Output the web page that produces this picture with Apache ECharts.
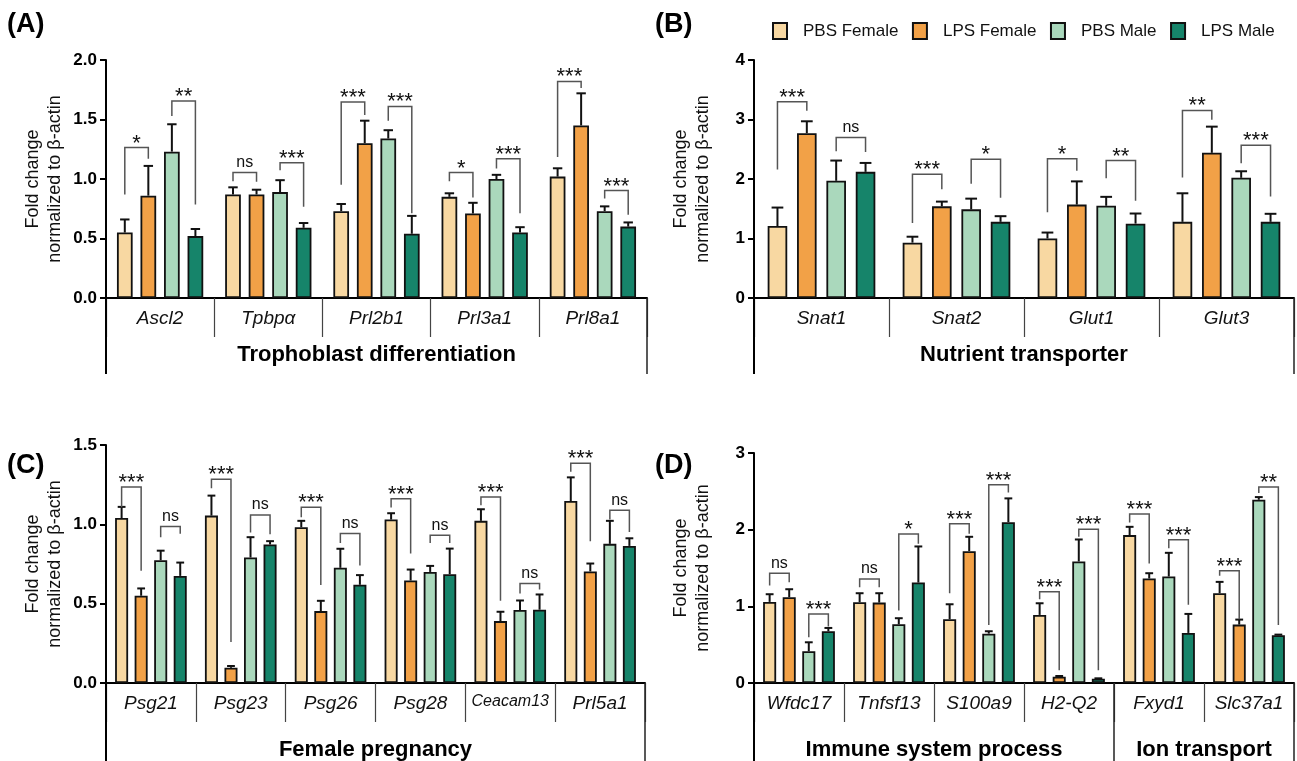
<!DOCTYPE html>
<html><head><meta charset="utf-8">
<script src="https://cdn.jsdelivr.net/npm/echarts@6/dist/echarts.min.js"></script>
<style>html,body{margin:0;padding:0;background:#fff}#c{width:1297px;height:761px}</style>
</head><body><div id="c"></div>
<script>
const seriesNames = ['PBS Female','LPS Female','PBS Male','LPS Male'];
const colors = ['#F8D8A2','#F2A147','#AAD8BC','#16846A'];
const yTitle = 'Fold change\nnormalized to β-actin';

// ---------- Panel A ----------
const catsA = ['Ascl2','Tpbpα','Prl2b1','Prl3a1','Prl8a1'];
const A_pbsF = [0.55,0.87,0.73,0.85,1.02];
const A_lpsF = [0.86,0.87,1.30,0.71,1.45];
const A_pbsM = [1.23,0.89,1.34,1.00,0.73];
const A_lpsM = [0.52,0.59,0.54,0.55,0.60];
const A_pbsF_sem = [0.11,0.06,0.06,0.03,0.07];
const A_lpsF_sem = [0.25,0.04,0.19,0.09,0.27];
const A_pbsM_sem = [0.23,0.10,0.07,0.035,0.04];
const A_lpsM_sem = [0.06,0.04,0.15,0.045,0.035];
const A_ticks = ['0.0','0.5','1.0','1.5','2.0'];
const A_groups = [['Trophoblast differentiation',0,4]];
// [category, series left, series right, bracket top, left leg end, right leg end, label]
const A_sig = [
  [0,0,1,1.265,0.87,1.17,'*'],[0,2,3,1.655,1.53,0.785,'**'],
  [1,0,1,1.055,0.982,0.976,'ns'],[1,2,3,1.136,1.074,0.766,'***'],
  [2,0,1,1.647,0.951,1.537,'***'],[2,2,3,1.61,1.49,0.712,'***'],
  [3,0,1,1.055,0.982,0.844,'*'],[3,2,3,1.17,1.088,0.712,'***'],
  [4,0,1,1.82,1.184,1.764,'***'],[4,2,3,0.903,0.836,0.70,'***']
];

// ---------- Panel B ----------
const catsB = ['Snat1','Snat2','Glut1','Glut3'];
const B_pbsF = [1.21,0.93,1.00,1.28];
const B_lpsF = [2.77,1.54,1.57,2.44];
const B_pbsM = [1.97,1.49,1.55,2.02];
const B_lpsM = [2.12,1.28,1.25,1.28];
const B_pbsF_sem = [0.31,0.10,0.10,0.48];
const B_lpsF_sem = [0.20,0.08,0.39,0.44];
const B_pbsM_sem = [0.34,0.18,0.15,0.11];
const B_lpsM_sem = [0.15,0.095,0.17,0.135];
const B_ticks = ['0','1','2','3','4'];
const B_groups = [['Nutrient transporter',0,3]];
const B_sig = [
  [0,0,1,3.30,2.16,3.147,'***'],[0,2,3,2.698,2.468,2.452,'ns'],
  [1,0,1,2.081,1.262,1.829,'***'],[1,2,3,2.334,1.919,1.683,'*'],
  [2,0,1,2.34,1.442,2.137,'*'],[2,2,3,2.311,2.014,1.633,'**'],
  [3,0,1,3.153,2.025,2.996,'**'],[3,2,3,2.569,2.266,1.706,'***']
];

// ---------- Panel C ----------
const catsC = ['Psg21','Psg23','Psg26','Psg28','Ceacam13','Prl5a1'];
const C_pbsF = [1.04,1.055,0.982,1.03,1.022,1.147];
const C_lpsF = [0.55,0.096,0.453,0.646,0.39,0.703];
const C_pbsM = [0.774,0.791,0.726,0.70,0.46,0.877];
const C_lpsM = [0.675,0.873,0.619,0.686,0.462,0.864];
const C_pbsF_sem = [0.07,0.126,0.04,0.04,0.073,0.149];
const C_lpsF_sem = [0.046,0.011,0.065,0.069,0.059,0.05];
const C_pbsM_sem = [0.06,0.128,0.12,0.038,0.06,0.145];
const C_lpsM_sem = [0.084,0.021,0.061,0.161,0.096,0.048];
const C_ticks = ['0.0','0.5','1.0','1.5'];
const C_groups = [['Female pregnancy',0,5]];
const C_sig = [
  [0,0,1,1.236,1.108,0.707,'***'],[0,2,3,0.986,0.919,0.94,'ns'],
  [1,0,1,1.284,1.227,0.258,'***'],[1,2,3,1.059,0.948,0.938,'ns'],
  [2,0,1,1.108,1.045,0.617,'***'],[2,2,3,0.942,0.883,0.74,'ns'],
  [3,0,1,1.162,1.106,0.816,'***'],[3,2,3,0.931,0.883,0.883,'ns'],
  [4,0,1,1.173,1.12,0.518,'***'],[4,2,3,0.627,0.564,0.589,'ns'],
  [5,0,1,1.385,1.332,0.894,'***'],[5,2,3,1.089,1.03,0.952,'ns']
];

// ---------- Panel D ----------
const catsD = ['Wfdc17','Tnfsf13','S100a9','H2-Q2','Fxyd1','Slc37a1'];
const D_pbsF = [1.058,1.054,0.832,0.888,1.929,1.171];
const D_lpsF = [1.119,1.049,1.72,0.083,1.363,0.762];
const D_pbsM = [0.414,0.766,0.644,1.585,1.389,2.39];
const D_lpsM = [0.675,1.31,2.098,0.057,0.653,0.623];
const D_pbsF_sem = [0.10,0.117,0.195,0.152,0.108,0.148];
const D_lpsF_sem = [0.104,0.122,0.187,0.008,0.069,0.065];
const D_pbsM_sem = [0.117,0.079,0.031,0.287,0.309,0.035];
const D_lpsM_sem = [0.043,0.471,0.31,0.004,0.248,0.008];
const D_ticks = ['0','1','2','3'];
const D_groups = [['Immune system process',0,3],['Ion transport',4,5]];
const D_sig = [
  [0,0,1,1.432,1.271,1.315,'ns'],[0,2,3,0.901,0.596,0.736,'***'],
  [1,0,1,1.358,1.249,1.249,'ns'],[1,2,3,1.942,0.945,1.815,'*'],
  [2,0,1,2.077,1.171,1.946,'***'],[2,2,3,2.586,0.757,2.486,'***'],
  [3,0,1,1.189,1.093,0.165,'***'],[3,2,3,2.007,1.907,0.165,'***'],
  [4,0,1,2.203,2.094,1.559,'***'],[4,2,3,1.868,1.759,1.02,'***'],
  [5,0,1,1.463,1.398,0.833,'***'],[5,2,3,2.555,2.477,0.757,'**']
];

// ---------- layout / style config ----------
const FONT = 'Liberation Sans, Arial, sans-serif';
const BW = 0.145, GAP = 0.5;
const panels = [
  {label:'(A)', lx:7, ly:11, cats:catsA, vals:[A_pbsF,A_lpsF,A_pbsM,A_lpsM], sems:[A_pbsF_sem,A_lpsF_sem,A_pbsM_sem,A_lpsM_sem],
   ticks:A_ticks, max:2, interval:0.5, groups:A_groups, sig:A_sig, grid:{left:106, top:60, width:541, height:238}, ext:76, gy:57},
  {label:'(B)', lx:655, ly:11, cats:catsB, vals:[B_pbsF,B_lpsF,B_pbsM,B_lpsM], sems:[B_pbsF_sem,B_lpsF_sem,B_pbsM_sem,B_lpsM_sem],
   ticks:B_ticks, max:4, interval:1, groups:B_groups, sig:B_sig, grid:{left:754, top:60, width:540, height:238}, ext:76, gy:57},
  {label:'(C)', lx:7, ly:452, cats:catsC, vals:[C_pbsF,C_lpsF,C_pbsM,C_lpsM], sems:[C_pbsF_sem,C_lpsF_sem,C_pbsM_sem,C_lpsM_sem],
   ticks:C_ticks, max:1.5, interval:0.5, groups:C_groups, sig:C_sig, grid:{left:106, top:445, width:539, height:238}, ext:80, gy:67},
  {label:'(D)', lx:655, ly:452, cats:catsD, vals:[D_pbsF,D_lpsF,D_pbsM,D_lpsM], sems:[D_pbsF_sem,D_lpsF_sem,D_pbsM_sem,D_lpsM_sem],
   ticks:D_ticks, max:3, interval:1, groups:D_groups, sig:D_sig, grid:{left:754, top:453, width:540, height:230}, ext:80, gy:67}
];

function barX(api, c, s) {
  const band = api.size([1, 0])[0];
  const bw = band * BW;
  return api.coord([c, 0])[0] + (s - 1.5) * bw * (1 + GAP);
}

const option = {
  animation: false,
  backgroundColor: '#fff',
  textStyle: {fontFamily: FONT},
  title: panels.map(p => ({text: p.label, left: p.lx, top: p.ly, padding: 0,
    textStyle: {fontSize: 27, fontWeight: 'bold', color: '#000', fontFamily: FONT}})),
  legend: {
    data: seriesNames, left: 772, top: 22, padding: 0, icon: 'rect', itemWidth: 14, itemHeight: 16, itemGap: 13.5,
    textStyle: {fontSize: 17, color: '#111', fontFamily: FONT, padding: [0, 0, 0, 11]},
    selectedMode: false
  },
  grid: panels.map(p => Object.assign({outerBoundsMode: 'none'}, p.grid)),
  xAxis: panels.map((p, i) => ({
    type: 'category', gridIndex: i, boundaryGap: true,
    data: p.cats.map(c => c === 'Ceacam13' ? {value: c, textStyle: {fontSize: 16}} : c),
    axisLine: {lineStyle: {color: '#000', width: 2}},
    axisTick: {show: true, interval: 0, length: 39, lineStyle: {color: '#444', width: 1.2}},
    axisLabel: {interval: 0, margin: 11, fontSize: 19, fontStyle: 'italic', color: '#111', fontFamily: FONT}
  })),
  yAxis: panels.map((p, i) => ({
    type: 'value', gridIndex: i, min: 0, max: p.max, interval: p.interval,
    axisLine: {show: true, lineStyle: {color: '#000', width: 2}},
    axisTick: {show: true, length: 6, lineStyle: {color: '#000', width: 2}},
    splitLine: {show: false},
    axisLabel: {margin: 9, fontSize: 17, fontWeight: 'bold', color: '#000', fontFamily: FONT,
      formatter: (v) => p.ticks[Math.round(v / p.interval)]},
    name: yTitle, nameLocation: 'middle', nameGap: 40, nameRotate: 90, nameMoveOverlap: false,
    nameTextStyle: {fontSize: 18, lineHeight: 22, color: '#111', fontFamily: FONT}
  })),
  series: []
};

panels.forEach((p, i) => {
  // bars
  p.vals.forEach((vals, s) => {
    option.series.push({
      type: 'bar', name: seriesNames[s], xAxisIndex: i, yAxisIndex: i,
      data: vals, barWidth: (BW * 100) + '%', barGap: (GAP * 100) + '%',
      itemStyle: {color: colors[s], borderColor: '#111', borderWidth: 1.8}, z: 2
    });
  });
  // error bars (mean + SEM)
  const errData = [];
  p.vals.forEach((vals, s) => vals.forEach((v, c) => errData.push([c, v, p.sems[s][c], s])));
  option.series.push({
    type: 'custom', xAxisIndex: i, yAxisIndex: i, clip: false, z: 4, silent: true,
    encode: {x: 0, y: 1}, data: errData,
    renderItem: (params, api) => {
      const c = api.value(0), m = api.value(1), e = api.value(2), s = api.value(3);
      const x = barX(api, c, s);
      const y0 = api.coord([c, m])[1], y1 = api.coord([c, m + e])[1];
      const cap = api.size([1, 0])[0] * BW * 0.3;
      return {type: 'group', children: [
        {type: 'line', shape: {x1: x, y1: y0, x2: x, y2: y1}, style: {stroke: '#111', lineWidth: 2}},
        {type: 'line', shape: {x1: x - cap, y1: y1, x2: x + cap, y2: y1}, style: {stroke: '#111', lineWidth: 2}}
      ]};
    }
  });
  // significance brackets
  option.series.push({
    type: 'custom', xAxisIndex: i, yAxisIndex: i, clip: false, z: 4, silent: true,
    encode: {x: 0, y: 3}, data: p.sig.map((r, k) => [r[0], r[1], r[2], r[3], r[4], r[5], k]),
    renderItem: (params, api) => {
      const c = api.value(0), sl = api.value(1), sr = api.value(2);
      const xl = barX(api, c, sl), xr = barX(api, c, sr);
      const yt = api.coord([c, api.value(3)])[1];
      const yl = api.coord([c, api.value(4)])[1];
      const yr = api.coord([c, api.value(5)])[1];
      const lab = p.sig[api.value(6)][6];
      const isNs = lab === 'ns';
      return {type: 'group', children: [
        {type: 'polyline', shape: {points: [[xl, yl], [xl, yt], [xr, yt], [xr, yr]]},
         style: {stroke: '#555', lineWidth: 1.5, fill: null}},
        {type: 'text', style: {text: lab, x: (xl + xr) / 2, y: isNs ? yt - 2 : yt + 7, align: 'center', verticalAlign: 'bottom',
          fontSize: isNs ? 16 : 22, fontFamily: FONT, fill: '#111'}}
      ]};
    }
  });
  // category-group frame: axis extension, group dividers, group labels
  option.series.push({
    type: 'custom', xAxisIndex: i, yAxisIndex: i, clip: false, z: 3, silent: true,
    encode: {x: 0, y: 3}, data: p.groups.map((g, k) => [g[1], g[2], k, 0]),
    renderItem: (params, api) => {
      const st = api.value(0), en = api.value(1), k = api.value(2);
      const band = api.size([1, 0])[0];
      const xl = api.coord([st, 0])[0] - band / 2, xr = api.coord([en, 0])[0] + band / 2;
      const y0 = api.coord([st, 0])[1];
      const ch = [
        {type: 'line', shape: {x1: xr, y1: y0, x2: xr, y2: y0 + p.ext}, style: {stroke: '#222', lineWidth: 1.5}},
        {type: 'text', style: {text: p.groups[k][0], x: (xl + xr) / 2, y: y0 + p.gy, align: 'center', verticalAlign: 'middle',
          fontSize: 22, fontWeight: 'bold', fontFamily: FONT, fill: '#000'}}
      ];
      if (k === 0) ch.push({type: 'line', shape: {x1: xl, y1: y0, x2: xl, y2: y0 + p.ext}, style: {stroke: '#000', lineWidth: 2}});
      return {type: 'group', children: ch};
    }
  });
});

const chart = echarts.init(document.getElementById('c'), null, {renderer: 'canvas'});
chart.setOption(option);
</script>
</body></html>
